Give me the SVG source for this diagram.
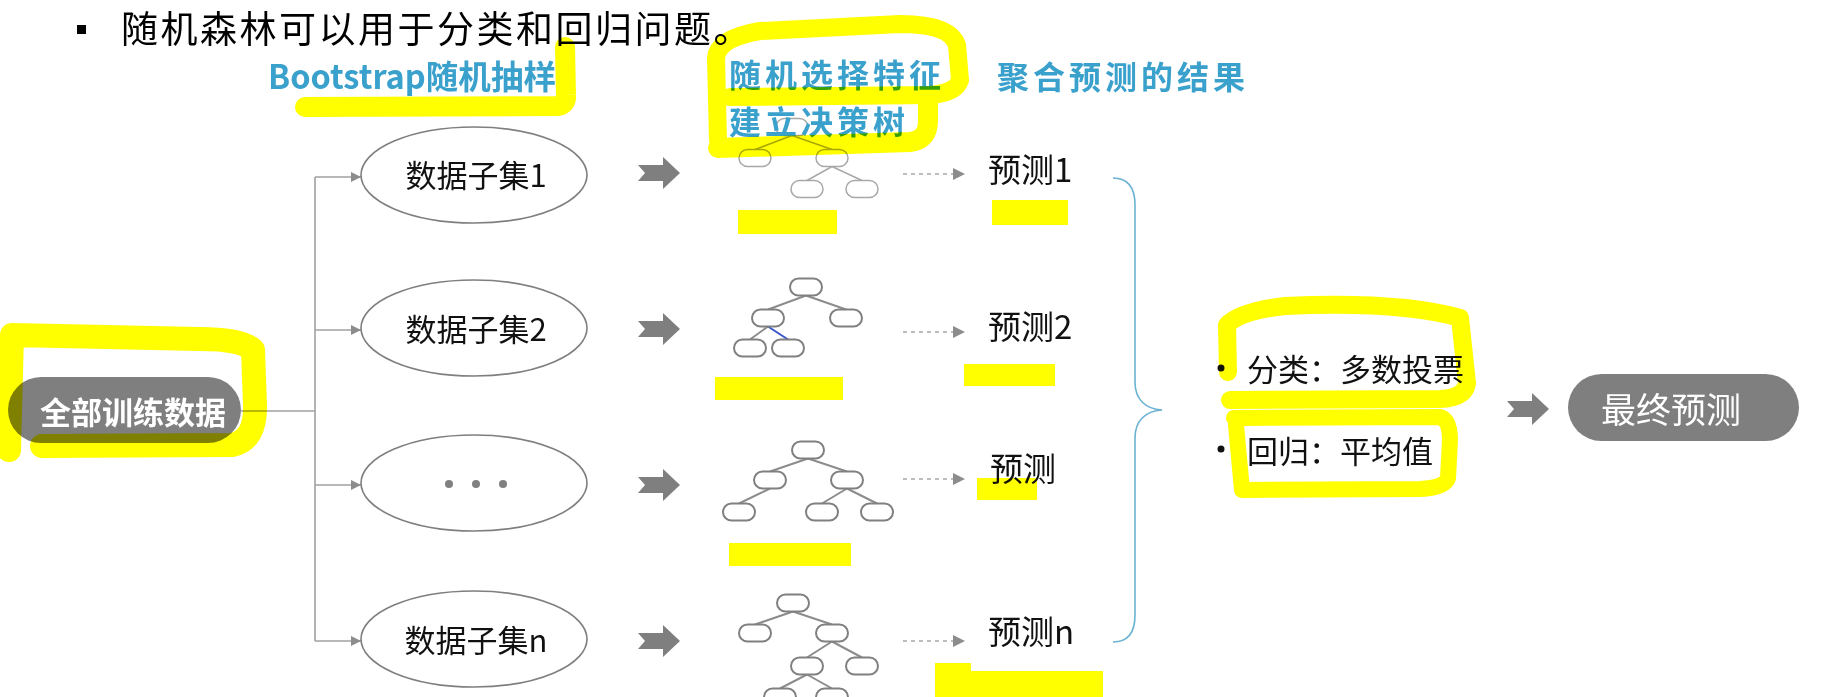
<svg xmlns="http://www.w3.org/2000/svg" width="1843" height="697" viewBox="0 0 1843 697">
<style>
text{font-family:"Noto Sans CJK SC","Noto Sans",sans-serif;dominant-baseline:central}
.title{font-size:37px;fill:#000;letter-spacing:2.5px}
.hdr{font-size:32px;font-weight:bold;fill:#3aa0cc;letter-spacing:4px}
.hdrb{font-size:33px;font-weight:bold;fill:#3aa0cc}
.et{font-size:31px;fill:#111;text-anchor:middle}
.pt{font-size:33px;fill:#111}
.bt{font-size:31px;fill:#111}
.pill{fill:#7f7f7f}
.pillt{fill:#fff;text-anchor:middle}
.ell{fill:#fff;stroke:#7f7f7f;stroke-width:1.6}
.conn{fill:none;stroke:#a0a0a0;stroke-width:1.6}
.dash{fill:none;stroke:#a6a6a6;stroke-width:1.6;stroke-dasharray:4 4}
.blk{fill:#7f7f7f}
.nd{fill:#fff;stroke:#808080;stroke-width:2}
.nd1{fill:#fff;stroke:#a8a8a8;stroke-width:1.5}
.tl{fill:none;stroke:#8c8c8c;stroke-width:2}
.tl1{fill:none;stroke:#a8a8a8;stroke-width:1.5}
.brace{fill:none;stroke:#6ab2d2;stroke-width:1.6}
.hl{mix-blend-mode:multiply}
.hls{fill:none;stroke:#ffff00;stroke-linejoin:round;stroke-linecap:round}
.hlf{fill:#ffff00}
</style>
<defs>
<marker id="tri" viewBox="0 0 10 10" refX="10" refY="5" markerWidth="13" markerHeight="10" markerUnits="userSpaceOnUse" orient="auto"><path d="M0,0 L10,5 L0,10 Z" fill="#8c8c8c"/></marker>
<marker id="tri2" viewBox="0 0 10 10" refX="10" refY="5" markerWidth="12" markerHeight="13" markerUnits="userSpaceOnUse" orient="auto"><path d="M0,0 L10,5 L0,10 Z" fill="#8c8c8c"/></marker>
<path id="barrow" d="M0,-8 L25,-8 L25,-16 L42,0 L25,16 L25,8 L0,8 L7,0 Z"/>
</defs>
<rect width="1843" height="697" fill="#fff"/>

<g id="title">
<rect x="77" y="25" width="9" height="9" fill="#000"/>
<text class="title" x="121" y="27">随机森林可以用于分类和回归问题。</text>
</g>

<g id="connectors">
<path class="conn" d="M241,411 L315,411"/>
<path class="conn" d="M315,177 L315,641"/>
<path class="conn" d="M315,177 L361,177" marker-end="url(#tri)"/>
<path class="conn" d="M315,330 L361,330" marker-end="url(#tri)"/>
<path class="conn" d="M315,485 L361,485" marker-end="url(#tri)"/>
<path class="conn" d="M315,641 L361,641" marker-end="url(#tri)"/>
<path class="dash" d="M903,174 L965,174" marker-end="url(#tri2)"/>
<path class="dash" d="M903,332 L965,332" marker-end="url(#tri2)"/>
<path class="dash" d="M903,479 L965,479" marker-end="url(#tri2)"/>
<path class="dash" d="M903,641 L965,641" marker-end="url(#tri2)"/>
<use href="#barrow" class="blk" x="638" y="173"/>
<use href="#barrow" class="blk" x="638" y="329"/>
<use href="#barrow" class="blk" x="638" y="485"/>
<use href="#barrow" class="blk" x="638" y="641"/>
<use href="#barrow" class="blk" x="1507" y="409"/>
</g>

<g id="all-data">
<rect class="pill" x="8" y="377" width="233" height="66" rx="33"/>
<text class="pillt" x="133" y="410" font-size="31" font-weight="bold">全部训练数据</text>
</g>

<g id="subset1"><ellipse class="ell" cx="474" cy="175" rx="113" ry="48"/><text class="et" x="476" y="173">数据子集1</text></g>
<g id="subset2"><ellipse class="ell" cx="474" cy="328" rx="113" ry="48"/><text class="et" x="476" y="327">数据子集2</text></g>
<g id="subset3"><ellipse class="ell" cx="474" cy="483" rx="113" ry="48"/>
<circle cx="449" cy="484" r="4" fill="#808080"/><circle cx="476" cy="484" r="4" fill="#808080"/><circle cx="503" cy="484" r="4" fill="#808080"/></g>
<g id="subsetn"><ellipse class="ell" cx="474" cy="639" rx="113" ry="48"/><text class="et" x="476" y="638">数据子集n</text></g>

<g id="tree1">
<path class="tl1" d="M792,135.5 L755,149.5 M792,135.5 L832,149.5 M832,166.5 L807,180.5 M832,166.5 L862,180.5"/>
<rect class="nd1" x="776" y="118.5" width="32" height="17" rx="8.5"/>
<rect class="nd1" x="739" y="149.5" width="32" height="17" rx="8.5"/>
<rect class="nd1" x="816" y="149.5" width="32" height="17" rx="8.5"/>
<rect class="nd1" x="791" y="180.5" width="32" height="17" rx="8.5"/>
<rect class="nd1" x="846" y="180.5" width="32" height="17" rx="8.5"/>
</g>
<g id="tree2">
<path class="tl" d="M806,295.5 L768,309.5 M806,295.5 L846,309.5 M768,326.5 L750,339.5"/>
<path fill="none" stroke="#3a56c8" stroke-width="2" d="M768,326.5 L788,339.5"/>
<rect class="nd" x="790" y="278.5" width="32" height="17" rx="8.5"/>
<rect class="nd" x="752" y="309.5" width="32" height="17" rx="8.5"/>
<rect class="nd" x="830" y="309.5" width="32" height="17" rx="8.5"/>
<rect class="nd" x="734" y="339.5" width="32" height="17" rx="8.5"/>
<rect class="nd" x="772" y="339.5" width="32" height="17" rx="8.5"/>
</g>
<g id="tree3">
<path class="tl" d="M808,458.5 L770,471.5 M808,458.5 L847,471.5 M770,488.5 L739,503.5 M847,488.5 L822,503.5 M847,488.5 L877,503.5"/>
<rect class="nd" x="792" y="441.5" width="32" height="17" rx="8.5"/>
<rect class="nd" x="754" y="471.5" width="32" height="17" rx="8.5"/>
<rect class="nd" x="831" y="471.5" width="32" height="17" rx="8.5"/>
<rect class="nd" x="723" y="503.5" width="32" height="17" rx="8.5"/>
<rect class="nd" x="806" y="503.5" width="32" height="17" rx="8.5"/>
<rect class="nd" x="861" y="503.5" width="32" height="17" rx="8.5"/>
</g>
<g id="treen">
<path class="tl" d="M793,611.5 L755,624.5 M793,611.5 L832,624.5 M832,641.5 L807,657.5 M832,641.5 L862,657.5 M807,674.5 L780,688.5 M807,674.5 L832,688.5"/>
<rect class="nd" x="777" y="594.5" width="32" height="17" rx="8.5"/>
<rect class="nd" x="739" y="624.5" width="32" height="17" rx="8.5"/>
<rect class="nd" x="816" y="624.5" width="32" height="17" rx="8.5"/>
<rect class="nd" x="791" y="657.5" width="32" height="17" rx="8.5"/>
<rect class="nd" x="846" y="657.5" width="32" height="17" rx="8.5"/>
<rect class="nd" x="764" y="688.5" width="32" height="17" rx="8.5"/>
<rect class="nd" x="816" y="688.5" width="32" height="17" rx="8.5"/>
</g>

<g id="headers">
<text class="hdrb" x="268" y="75" textLength="288" lengthAdjust="spacingAndGlyphs">Bootstrap随机抽样</text>
<text class="hdr" x="729" y="73">随机选择特征</text>
<text class="hdr" x="729" y="120">建立决策树</text>
<text class="hdr" x="997" y="75">聚合预测的结果</text>
</g>

<g id="pred1"><text class="pt" x="988" y="168">预测1</text></g>
<g id="pred2"><text class="pt" x="988" y="325">预测2</text></g>
<g id="pred3"><text class="pt" x="990" y="467">预测</text></g>
<g id="predn"><text class="pt" x="988" y="630">预测n</text></g>

<g id="brace"><path class="brace" d="M1113,178 C1128,178 1135,188 1135,205 L1135,382 C1135,399 1145,409 1162,410 C1145,411 1135,421 1135,438 L1135,615 C1135,632 1128,642 1113,642"/></g>

<g id="aggregate">
<circle cx="1221" cy="368" r="3.5" fill="#111"/>
<text class="bt" x="1247" y="367">分类：多数投票</text>
<circle cx="1221" cy="449" r="3.5" fill="#111"/>
<text class="bt" x="1247" y="449">回归：平均值</text>
</g>

<g id="final">
<rect class="pill" x="1568" y="374" width="231" height="67" rx="33.5"/>
<text class="pillt" x="1671" y="407" font-size="35">最终预测</text>
</g>

<g id="highlights" class="hl">
<path class="hls" stroke-width="20" d="M305,107 L558,106 Q567,104 566,95 L565,47"/>
<path class="hls" stroke-width="18" d="M718,140 L716,58 Q718,38 760,31 L900,24 Q950,24 957,45 L960,80 Q956,93 930,95 L730,97"/>
<path class="hls" stroke-width="20" d="M718,148 L910,142 Q928,140 928,121 L928,104"/>
<rect class="hlf" x="738" y="210" width="99" height="24"/>
<rect class="hlf" x="992" y="200" width="76" height="25"/>
<rect class="hlf" x="715" y="377" width="128" height="23"/>
<rect class="hlf" x="964" y="364" width="91" height="22"/>
<rect class="hlf" x="729" y="543" width="122" height="23"/>
<rect class="hlf" x="977" y="478" width="60" height="22"/>
<rect class="hlf" x="935" y="671" width="168" height="26"/>
<rect class="hlf" x="935" y="663" width="36" height="12"/>
<path class="hls" stroke-width="24" d="M42,446 L232,445 Q256,440 255,405 L253,350 Q242,339 200,339 L12,335 L9,450"/>
<path class="hls" stroke-width="18" d="M1228,372 L1227,325 Q1240,311 1285,306 Q1400,301 1460,318 L1467,383 Q1465,398 1440,399 L1230,400"/>
<path class="hls" stroke-width="16" d="M1234,418 L1440,417 Q1450,420 1450,440 L1448,478 Q1445,488 1420,489 L1242,490 L1236,425"/>
</g>
</svg>
